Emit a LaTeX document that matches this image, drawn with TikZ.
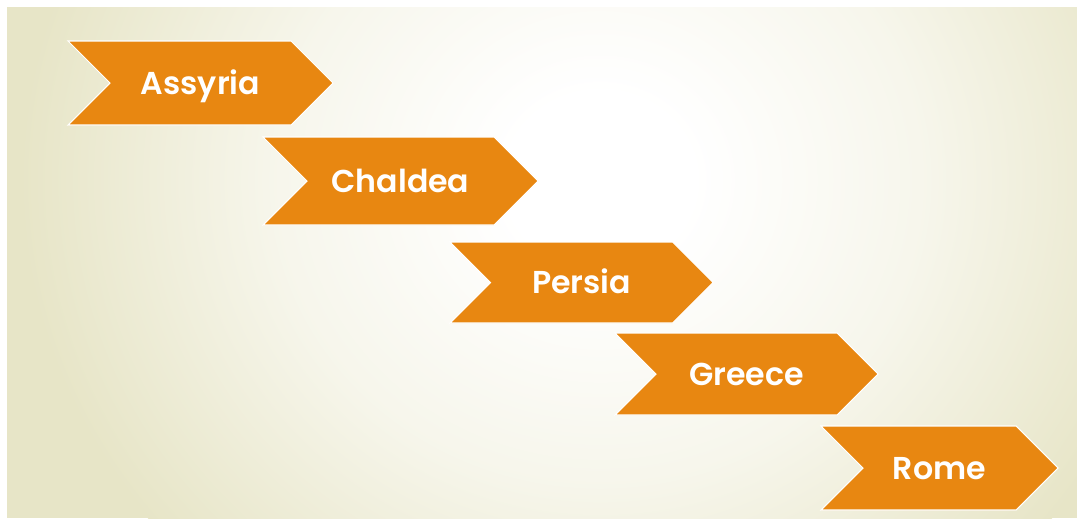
\documentclass[tikz,border=0pt]{standalone}
\usepackage{fontspec}
\setmainfont{Poppins}[BoldFont={Poppins SemiBold}]
\usepackage{tikz}
\usetikzlibrary{positioning, calc}
\definecolor{eraOrange}{RGB}{232,135,17}
\definecolor{paper}{RGB}{231,229,199}
\pgfdeclareradialshading{glow}{\pgfpoint{0bp}{0bp}}{color(0bp)=(white); color(4bp)=(white);
  color(14bp)=(paper!35!white); color(25bp)=(paper); color(50bp)=(paper)}
\tikzstyle{era}=[fill=eraOrange, draw=white, line width=0.6pt, line join=miter]
\tikzstyle{eraText}=[text=white, font=\fontsize{18}{21}\selectfont\bfseries, inner sep=0pt,
  text height=12.6pt, text depth=0pt]

\begin{document}
\begin{tikzpicture}[x=0.02cm, y=-0.02cm]
      \useasboundingbox[fill=white] (0,0) rectangle (1077,518);

      % background panel
      \begin{scope}
        \clip (7,7) rectangle (1077,518);
        \fill[paper] (7,7) rectangle (1077,518);
        \shade[shading=glow] (600,180) ellipse (580 and 540);
      \end{scope}

      % left/top/width/height/label
      \foreach \x/\y/\w/\h/\name in {68/41/265/84/Assyria, 263/137/275/88/Chaldea,
        450/242/263/81/Persia, 615/333/263/82/Greece, 821/426/237/84/Rome}{
        \draw[era] (\x,\y) -- ++(\w-\h/2,0) -- ++(\h/2,\h/2) -- ++(-\h/2,\h/2)
          -- ++(-\w+\h/2,0) -- ++(\h/2,-\h/2) -- cycle;
        \node[eraText] (\name) at (\x+\w/2, \y+\h/2) {\name};
      }
    \end{tikzpicture}
\end{document}
